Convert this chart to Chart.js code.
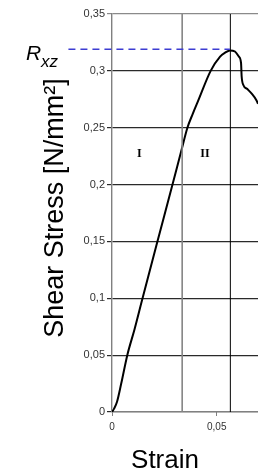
<!DOCTYPE html>
<html>
<head>
<meta charset="utf-8">
<script src="https://cdn.jsdelivr.net/npm/chart.js@4"></script>
<style>
  body { margin: 0; background: #fff; }
  canvas { display: block; }
</style>
</head>
<body>
<canvas id="myCanvas" width="258" height="473"></canvas>
<script>
// curve
const strain = [0, 0.001, 0.0024, 0.0044, 0.0073, 0.0108, 0.0143, 0.0214, 0.0286, 0.033, 0.036, 0.0385, 0.0412, 0.0471, 0.0516, 0.054, 0.0563, 0.0587, 0.0606, 0.0616, 0.0619, 0.0627, 0.0646, 0.0667, 0.069, 0.0697]
const stress = [0, 0.003, 0.009, 0.025, 0.05, 0.073, 0.098, 0.148, 0.198, 0.229, 0.25, 0.262, 0.274, 0.3, 0.3125, 0.316, 0.318, 0.317, 0.3125, 0.307, 0.295, 0.2876, 0.284, 0.28, 0.274, 0.271]

const regionBounds = [0.0335, 0.0565]   // vertical lines between regions
const regionLabels = ["I", "II"]
const regionLabelX = [0.013, 0.0444]
const regionLabelY = 0.227

const peakStress = 0.319
const dashStart = -0.0208

const xTicks = [0, 0.05]
const yMax = 0.35
const yStep = 0.05

const fmt = v => v === 0 ? "0" : String(Math.round(v * 100) / 100).replace(".", ",")

const curve = strain.map((s, i) => ({x: s, y: stress[i]}))

const textPlugin = {
  id: "texts",
  afterDraw(chart) {
    const ctx = chart.ctx
    const xs = chart.scales.x
    const ys = chart.scales.y
    ctx.save()
    ctx.fillStyle = "#000"

    // region labels
    ctx.font = 'bold 12px "Liberation Serif"'
    ctx.textAlign = "center"
    ctx.textBaseline = "middle"
    regionLabels.forEach((t, i) => {
      ctx.fillText(t, xs.getPixelForValue(regionLabelX[i]), ys.getPixelForValue(regionLabelY))
    })

    // R_xz
    ctx.textAlign = "left"
    ctx.textBaseline = "alphabetic"
    ctx.font = 'italic 21px "Liberation Sans"'
    ctx.fillText("R", 26, 60)
    ctx.font = 'italic 17px "Liberation Sans"'
    ctx.fillText("xz", 41, 67)

    // axis titles
    ctx.textAlign = "center"
    ctx.font = '26px "Liberation Sans"'
    ctx.fillText("Strain", 165, 468)

    ctx.translate(63, 208)
    ctx.rotate(-Math.PI / 2)
    ctx.font = '27px "Liberation Sans"'
    ctx.fillText("Shear Stress [N/mm\u00b2]", 0, 0)
    ctx.restore()
  }
}

const datasets = [
  {
    data: [{x: dashStart, y: peakStress}, {x: strain[stress.indexOf(Math.max(...stress))], y: peakStress}],
    borderColor: "#3c3cd2",
    borderWidth: 1.6,
    borderDash: [7, 5],
    clip: false
  },
  {
    data: [{x: regionBounds[0], y: 0}, {x: regionBounds[0], y: yMax}],
    borderColor: "#858585",
    borderWidth: 1.6
  },
  {
    data: [{x: regionBounds[1], y: 0}, {x: regionBounds[1], y: yMax}],
    borderColor: "#000",
    borderWidth: 1
  },
  {
    data: curve,
    borderColor: "#000",
    borderWidth: 2,
    cubicInterpolationMode: "monotone"
  }
]

const config = {
  type: "scatter",
  data: {datasets: datasets.map(d => Object.assign({showLine: true, pointRadius: 0, fill: false}, d))},
  options: {
    responsive: false,
    animation: false,
    layout: {padding: {top: 14, left: 0, right: 0, bottom: 0}},
    plugins: {legend: {display: false}, tooltip: {enabled: false}},
    scales: {
      x: {
        type: "linear",
        min: 0,
        max: 0.0697,
        afterBuildTicks: s => { s.ticks = xTicks.map(v => ({value: v})) },
        afterFit: s => { s.height = 61 },
        grid: {drawOnChartArea: false, drawTicks: true, tickLength: 4, color: "#808080"},
        border: {color: "#808080", width: 1.2},
        ticks: {
          callback: v => fmt(v),
          color: "#333",
          font: {family: "Liberation Sans", size: 10},
          padding: 5,
          maxRotation: 0
        }
      },
      y: {
        min: 0,
        max: yMax,
        afterFit: s => { s.width = 112 },
        grid: {
          color: c => c.tick && c.tick.value >= yMax - 1e-9 ? "#8a8a8a" : "#2a2a2a",
          lineWidth: 1.2,
          tickLength: 5
        },
        border: {color: "#808080", width: 1.4},
        ticks: {
          stepSize: yStep,
          callback: v => fmt(v),
          color: "#333",
          font: {family: "Liberation Sans", size: 11},
          padding: 2
        }
      }
    }
  },
  plugins: [textPlugin]
}

var myChart = new Chart(document.getElementById("myCanvas"), config)
</script>
</body>
</html>
